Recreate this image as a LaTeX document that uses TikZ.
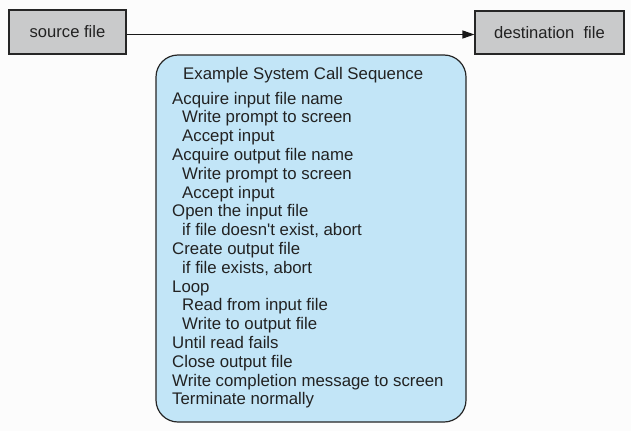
\documentclass[tikz,border=0pt]{standalone}
\usepackage{fontspec}
\setmainfont{Liberation Sans}
\usetikzlibrary{arrows.meta}
\definecolor{bgc}{HTML}{FCFCFC}
\definecolor{filebox}{HTML}{C9CACB}
\definecolor{seqfill}{HTML}{C2E5F7}
\definecolor{txt}{HTML}{222222}
\tikzset{
  filenode/.style={draw=black!85, line width=1.1pt, fill=filebox, inner sep=0pt, text=txt,
    font=\fontsize{16.6}{18}\selectfont},
  seqline/.style={anchor=base west, inner sep=0pt, text=txt, font=\fontsize{16.8}{18.8}\selectfont},
  flow/.style={draw=black!90, line width=1.1pt, -{Triangle[length=12pt,width=8pt]}}
}
\begin{document}
\begin{tikzpicture}[x=1pt,y=-1pt]
\fill[bgc] (0,0) rectangle (631,431);
\useasboundingbox (0,0) rectangle (631,431);
\node[filenode, minimum width=117pt, minimum height=44pt] (src) at (67.5,32) {source file};
\node[filenode, minimum width=149pt, minimum height=43pt] (dst) at (549.5,32.5) {destination\ \ file};
\draw[flow] ([yshift=-2.5pt]src.east) -- ([yshift=-2pt]dst.west);
\draw[draw=black!85, line width=1.2pt, fill=seqfill, rounded corners=22pt] (156,55) rectangle (466,422);
\node[seqline] (title) at (183,79) {Example System Call Sequence};
\foreach \i/\ind/\t in {
 0/0/Acquire input file name,
 1/1/Write prompt to screen,
 2/1/Accept input,
 3/0/Acquire output file name,
 4/1/Write prompt to screen,
 5/1/Accept input,
 6/0/Open the input file,
 7/1/{if file doesn\textquotesingle t exist, abort},
 8/0/Create output file,
 9/1/{if file exists, abort},
 10/0/Loop,
 11/1/Read from input file,
 12/1/Write to output file,
 13/0/Until read fails,
 14/0/Close output file,
 15/0/Write completion message to screen,
 16/0/Terminate normally}
 {\node[seqline] (l\i) at ({172+10*\ind},{104+18.8*\i}) {\t};}
\end{tikzpicture}
\end{document}
